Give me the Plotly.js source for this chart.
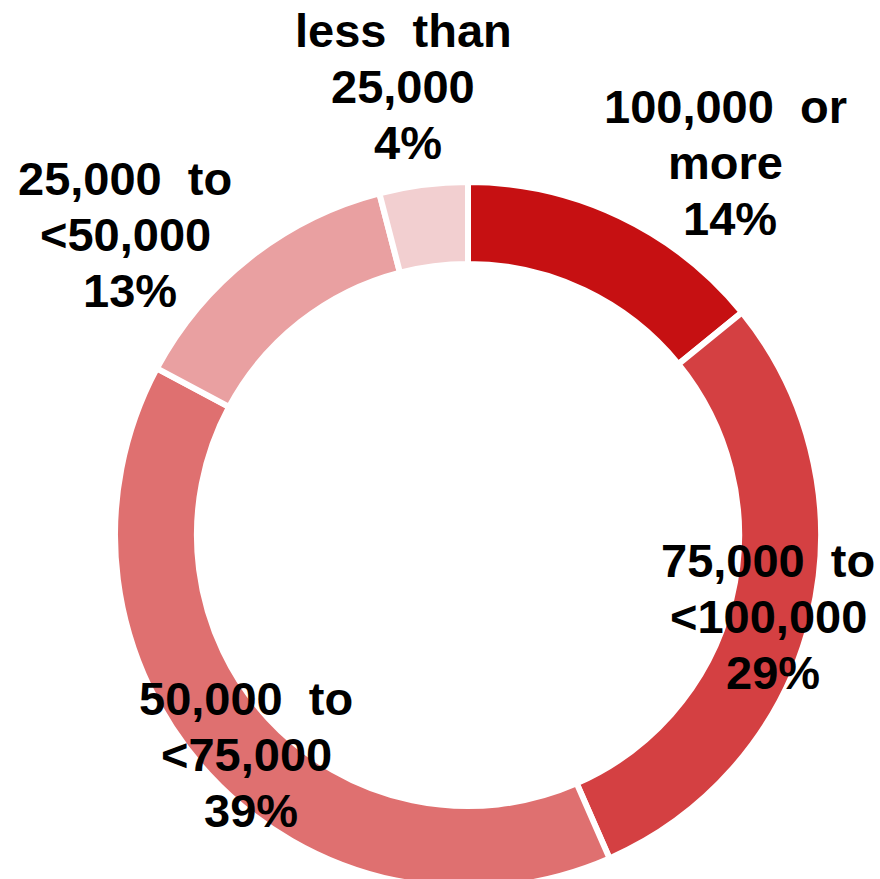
<!DOCTYPE html>
<html>
<head>
<meta charset="utf-8">
<script src="https://cdn.plot.ly/plotly-3.0.1.min.js"></script>
<style>
html, body { margin: 0; padding: 0; overflow: hidden; background: #ffffff; }
#chart { width: 880px; height: 900px; }
</style>
</head>
<body>
<div id="chart"></div>
<script>
// Data (clockwise from 12 o'clock)
const categories = ["100,000 or more", "75,000 to <100,000", "50,000 to <75,000", "25,000 to <50,000", "less than 25,000"];
const shares = [14, 29, 39, 13, 4];
const labelLine1 = ["100,000 or", "75,000 to", "50,000 to", "25,000 to", "less than"];
const labelLine2 = ["more", "<100,000", "<75,000", "<50,000", "25,000"];
const sliceColors = ["#C61012", "#D44042", "#DF7070", "#E9A0A1", "#F2CFD0"];

// Label block centres in page pixels (middle line), one per category
const blockX = [725, 768, 246, 125, 403];
const blockY = [162.5, 616.5, 754.5, 234.5, 86.5];
const lineGap = 56;
const pctShift = 5;

const W = 880, H = 900;

const trace = {
  type: "pie",
  labels: categories,
  values: shares,
  sort: false,
  direction: "clockwise",
  rotation: 0,
  hole: 0.768,
  textinfo: "none",
  hoverinfo: "label+percent",
  marker: { colors: sliceColors, line: { color: "#ffffff", width: 6 } },
  domain: { x: [115 / W, 821 / W], y: [(H - 888) / H, (H - 182) / H] },
  showlegend: false
};

function esc(s) {
  return s.replace(/</g, "&lt;").replace(/ /g, "\u00a0\u00a0");
}

const annotations = [];
categories.forEach((c, i) => {
  const lines = [esc(labelLine1[i]), esc(labelLine2[i]), shares[i] + "%"];
  lines.forEach((t, k) => {
    const px = blockX[i] + (k === 2 ? pctShift : 0);
    const py = blockY[i] + (k - 1) * lineGap;
    annotations.push({
      xref: "paper", yref: "paper",
      x: px / W, y: 1 - py / H,
      xanchor: "center", yanchor: "middle",
      showarrow: false,
      align: "center",
      text: t,
      font: { family: "Liberation Sans, Arial, sans-serif", size: 47, color: "#000000", weight: "bold" }
    });
  });
});

const layout = {
  width: W, height: H,
  margin: { l: 0, r: 0, t: 0, b: 0 },
  paper_bgcolor: "#ffffff",
  plot_bgcolor: "#ffffff",
  annotations: annotations
};

Plotly.newPlot("chart", [trace], layout, { displayModeBar: false, staticPlot: true });
</script>
</body>
</html>
